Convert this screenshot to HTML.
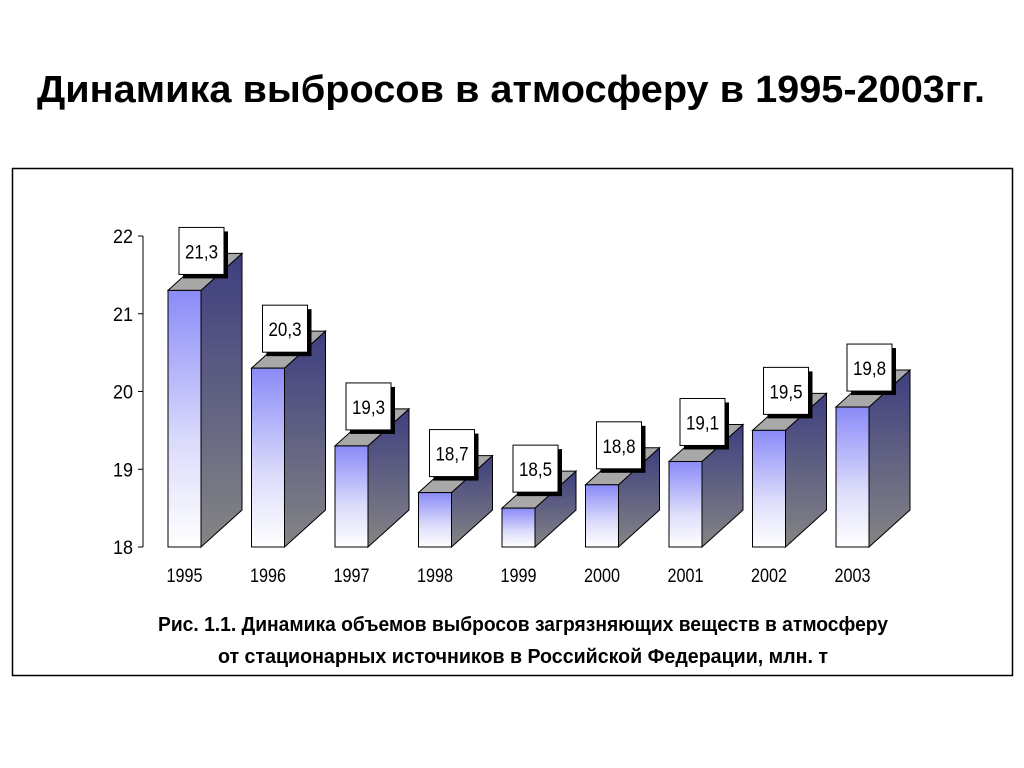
<!DOCTYPE html>
<html><head><meta charset="utf-8">
<style>
html,body{margin:0;padding:0;background:#fff;}
svg{display:block;font-family:"Liberation Sans","DejaVu Sans",sans-serif;}
</style></head>
<body>
<svg id="chart" width="1024" height="768" viewBox="0 0 1024 768" xmlns="http://www.w3.org/2000/svg">
<defs>
<linearGradient id="gFront" x1="0" y1="0" x2="0" y2="1">
<stop offset="0" stop-color="#8a8af8"/><stop offset="0.6" stop-color="#dcdcfb"/><stop offset="1" stop-color="#ffffff"/>
</linearGradient>
<linearGradient id="gSide" x1="0" y1="0" x2="0" y2="1">
<stop offset="0" stop-color="#3e3e80"/><stop offset="1" stop-color="#858585"/>
</linearGradient>
</defs>
<text x="37" y="102" font-size="38" font-weight="bold" fill="#000" textLength="948" lengthAdjust="spacingAndGlyphs">Динамика выбросов в атмосферу в 1995-2003гг.</text>
<rect x="12.5" y="168.5" width="1000" height="507" fill="#fff" stroke="#000" stroke-width="1.5"/>
<g id="axis"></g>
<g id="bars"></g>
<text x="523" y="631" font-size="20" font-weight="bold" text-anchor="middle" textLength="730" lengthAdjust="spacingAndGlyphs">Рис. 1.1. Динамика объемов выбросов загрязняющих веществ в атмосферу</text>
<text x="523" y="663" font-size="20" font-weight="bold" text-anchor="middle" textLength="610" lengthAdjust="spacingAndGlyphs">от стационарных источников в Российской Федерации, млн. т</text>
</svg>
<script>
const categories = ["1995","1996","1997","1998","1999","2000","2001","2002","2003"];
const values = [21.3,20.3,19.3,18.7,18.5,18.8,19.1,19.5,19.8];
const valueLabels = ["21,3","20,3","19,3","18,7","18,5","18,8","19,1","19,5","19,8"];
const yTicks = [18,19,20,21,22];

const NS="http://www.w3.org/2000/svg";
const yMin=18,yMax=22,yTop=236,yBot=547;
function y(v){return yBot-(v-yMin)/(yMax-yMin)*(yBot-yTop);}
const x0=168,step=83.5,bw=33,dx=41,dy=37;
function x(i){return x0+i*step;}
function mk(tag,attrs,parent){const e=document.createElementNS(NS,tag);for(const k in attrs)e.setAttribute(k,attrs[k]);parent.appendChild(e);return e;}

const axis=document.getElementById('axis');
const ax=mk('line',{x1:143,y1:yTop,x2:143,y2:yBot,stroke:'#000','stroke-width':1},axis);


yTicks.forEach(t=>{
  const l=mk('line',{x1:138,y1:y(t),x2:143,y2:y(t),stroke:'#000'},axis);
  
  
  const tx=mk('text',{x:133,y:y(t)+7,'font-size':19,'text-anchor':'end',textLength:20,lengthAdjust:'spacingAndGlyphs'},axis);
  tx.textContent=t;
  
  
});

const bars=document.getElementById('bars');
values.forEach((v,i)=>{
  const g=mk('g',{},bars);
  
  
  const L=x(i),R=L+bw,T=y(v),B=yBot;
  mk('polygon',{points:`${R},${T} ${R+dx},${T-dy} ${R+dx},${B-dy} ${R},${B}`,fill:'url(#gSide)',stroke:'#000','stroke-width':1},g);
  mk('polygon',{points:`${L},${T} ${L+dx},${T-dy} ${R+dx},${T-dy} ${R},${T}`,fill:'#a8a8a8',stroke:'#000','stroke-width':1},g);
  mk('rect',{x:L,y:T,width:bw,height:B-T,fill:'url(#gFront)',stroke:'#000','stroke-width':1},g);
  const lb=mk('g',{},g);
  
  
  const bx=L+11,by=T-63;
  mk('rect',{x:bx+4,y:by+4,width:45,height:47,fill:'#000'},lb);
  mk('rect',{x:bx,y:by,width:45,height:47,fill:'#fff',stroke:'#000','stroke-width':1},lb);
  const t=mk('text',{x:bx+22.5,y:by+31,'font-size':19,'text-anchor':'middle',textLength:33,lengthAdjust:'spacingAndGlyphs'},lb);
  t.textContent=valueLabels[i];
  const c=mk('text',{x:L+bw/2,y:582,'font-size':19,'text-anchor':'middle',textLength:36,lengthAdjust:'spacingAndGlyphs'},bars);
  c.textContent=categories[i];
  
  
});
</script>
</body></html>
